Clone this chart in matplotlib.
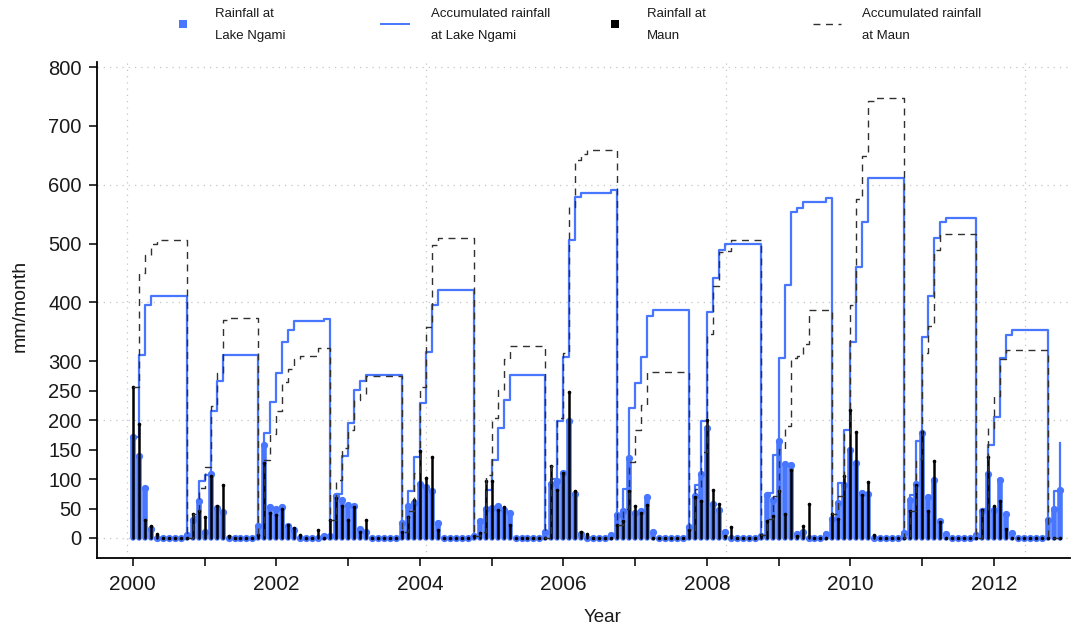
import numpy as np
import matplotlib
matplotlib.use("Agg")
import matplotlib.pyplot as plt
from matplotlib.lines import Line2D

# ---------------- data (monthly rainfall, Jan 2000 - Dec 2012) ----------------
rain_ngami = [
    171, 140, 85, 15, 0, 0, 0, 0, 0, 5, 30, 62,      # 2000
    10, 109, 51, 44, 0, 0, 0, 0, 0, 20, 158, 53,     # 2001
    49, 53, 21, 14, 0, 0, 0, 0, 4, 3, 72, 65,        # 2002
    56, 55, 16, 10, 0, 0, 0, 0, 0, 25, 54, 59,       # 2003
    91, 87, 80, 25, 0, 0, 0, 0, 0, 3, 28, 50,        # 2004
    51, 54, 48, 43, 0, 0, 0, 0, 0, 10, 91, 97,       # 2005
    110, 198, 74, 6, 0, 0, 0, 0, 5, 39, 45, 136,     # 2006
    43, 45, 69, 10, 0, 0, 0, 0, 0, 18, 72, 108,      # 2007
    186, 57, 48, 10, 0, 0, 0, 0, 0, 3, 73, 65,       # 2008
    164, 125, 124, 6, 11, 0, 0, 0, 6, 33, 60, 90,    # 2009
    150, 128, 76, 74, 0, 0, 0, 0, 0, 8, 65, 91,      # 2010
    178, 69, 98, 28, 6, 0, 0, 0, 0, 5, 45, 108,      # 2011
    48, 99, 40, 9, 0, 0, 0, 0, 0, 30, 50, 82,        # 2012
]
rain_maun = [
    257, 193, 30, 20, 6, 0, 0, 0, 0, 0, 40, 45,      # 2000
    35, 105, 55, 90, 3, 0, 0, 0, 0, 5, 128, 43,      # 2001
    39, 50, 22, 17, 5, 0, 0, 13, 0, 30, 68, 55,      # 2002
    30, 52, 10, 30, 0, 0, 0, 0, 0, 10, 35, 65,       # 2003
    147, 102, 138, 13, 0, 0, 0, 0, 0, 3, 8, 96,      # 2004
    96, 48, 53, 22, 0, 0, 0, 0, 0, 0, 122, 81,       # 2005
    111, 248, 80, 10, 7, 0, 0, 0, 0, 22, 28, 79,     # 2006
    55, 42, 56, 0, 0, 0, 0, 0, 0, 13, 70, 63,        # 2007
    200, 82, 57, 3, 18, 0, 0, 0, 0, 5, 28, 38,       # 2008
    80, 40, 115, 3, 20, 58, 0, 0, 0, 40, 32, 105,    # 2009
    218, 180, 73, 95, 5, 0, 0, 0, 0, 0, 45, 90,      # 2010
    180, 45, 130, 27, 0, 0, 0, 0, 0, 0, 48, 138,     # 2011
    55, 63, 16, 0, 0, 0, 0, 0, 0, 0, 0, 0,           # 2012
]
start_year = 2000
hydro_start_month = 10          # accumulation restarts every October

y_ticks = [0, 50, 100, 150, 200, 250, 300, 400, 500, 600, 700, 800]
x_ticks = list(range(2000, 2013))
x_ticklabels = [str(y) if y % 2 == 0 else "" for y in x_ticks]
grid_y = [0, 200, 400, 600, 800]
grid_x = [1999.912, 2004.088, 2008.262, 2012.432]

legend_labels = ["Rainfall at\nLake Ngami", "Accumulated rainfall\nat Lake Ngami",
                 "Rainfall at\nMaun", "Accumulated rainfall\nat Maun"]

# ---------------- derived ----------------
n = len(rain_ngami)
m = np.arange(n)
xpos = start_year + m / 12.0
cal_month = m % 12 + 1
cal_year = start_year + m // 12
hydro_year = np.where(cal_month >= hydro_start_month, cal_year + 1, cal_year)


def accumulate(vals):
    vals = np.asarray(vals, dtype=float)
    out = np.zeros_like(vals)
    for hy in np.unique(hydro_year):
        idx = hydro_year == hy
        out[idx] = np.cumsum(vals[idx])
    return out


acc_ngami = accumulate(rain_ngami)
acc_maun = accumulate(rain_maun)

BLUE = "#4876FF"
W, H = 1089, 628

plt.rcParams["font.family"] = ["Liberation Sans", "DejaVu Sans"]
fig = plt.figure(figsize=(W / 100, H / 100), dpi=100)
ax = fig.add_axes([97 / W, 70 / H, 973 / W, 496 / H])
ax.set_xlim(1999.5, 2013.061)
ax.set_ylim(-34, 808.5)

for gy in grid_y:
    ax.axhline(gy, color="#c4c4c4", lw=0.9, ls=(0, (1, 4)), zorder=0)
for gx in grid_x:
    ax.axvline(gx, color="#c4c4c4", lw=0.9, ls=(0, (1, 4)), zorder=0)

lc = ax.vlines(xpos, 0, rain_ngami, colors=BLUE, lw=4.0, zorder=2)
lc.set_capstyle("round")
ax.plot(xpos, rain_ngami, "o", ms=5.2, color=BLUE, mew=0, zorder=2)
ax.step(xpos, acc_ngami, where="post", color=BLUE, lw=1.6, zorder=3)
lc2 = ax.vlines(xpos, 0, rain_maun, colors="black", lw=1.8, zorder=4)
lc2.set_capstyle("round")
ax.plot(xpos, rain_maun, "o", ms=2.6, color="black", mew=0, zorder=4)
ax.step(xpos, acc_maun, where="post", color="#303030", lw=1.0,
        ls=(0, (5, 4)), zorder=5)

for s in ["top", "right"]:
    ax.spines[s].set_visible(False)
for s in ["left", "bottom"]:
    ax.spines[s].set_linewidth(1.3)
    ax.spines[s].set_color("black")

ax.set_yticks(y_ticks)
ax.set_yticklabels([str(v) for v in y_ticks])
ax.set_xticks(x_ticks)
ax.set_xticklabels(x_ticklabels)
ax.tick_params(axis="y", direction="out", length=6, width=1.1, labelsize=14.5,
               pad=5, colors="black", labelcolor="#1a1a1a")
ax.tick_params(axis="x", direction="out", length=6, width=1.1, labelsize=15,
               pad=6, colors="black", labelcolor="#1a1a1a")

fig.text(603 / W, 1 - 617 / H, "Year", ha="center", va="center", fontsize=13.5,
         color="#1a1a1a")
fig.text(20 / W, 1 - 306 / H, "mm/month", ha="center", va="center",
         rotation=90, fontsize=14, color="#1a1a1a")

# ---------------- legend (drawn manually along the top) ----------------
text_x = [215, 431, 647, 862]
ly = 1 - 25 / H
for tx, lab in zip(text_x, legend_labels):
    fig.text(tx / W, ly, lab, ha="left", va="center", fontsize=9.5,
             linespacing=2.2, color="#1a1a1a")
fig.add_artist(Line2D([183 / W], [1 - 24 / H], marker="s", ms=5.5, color=BLUE,
                      mew=0, transform=fig.transFigure))
fig.add_artist(Line2D([381 / W, 409 / W], [1 - 24 / H] * 2, color=BLUE, lw=1.4,
                      transform=fig.transFigure))
fig.add_artist(Line2D([615 / W], [1 - 24 / H], marker="s", ms=5.5, color="black",
                      mew=0, transform=fig.transFigure))
fig.add_artist(Line2D([813 / W, 841 / W], [1 - 24 / H] * 2, color="#303030",
                      lw=1.0, ls=(0, (5, 4)), transform=fig.transFigure))

fig.savefig("out.png", dpi=100)
